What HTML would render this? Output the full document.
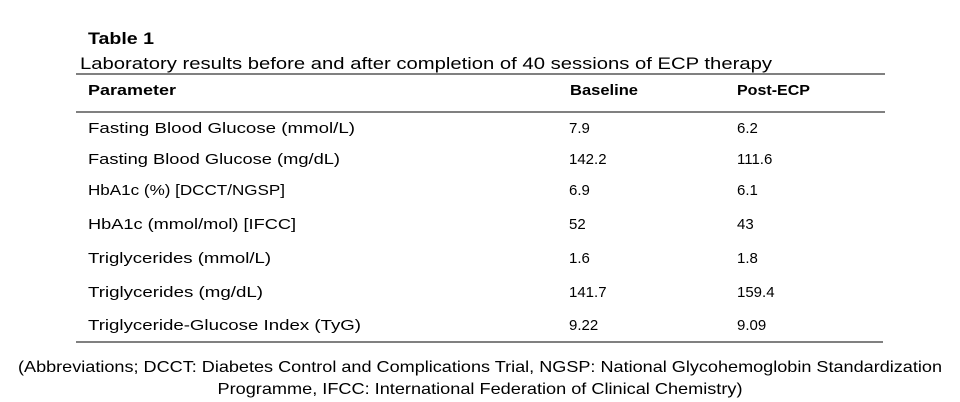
<!DOCTYPE html>
<html><head><meta charset="utf-8"><style>
html,body{margin:0;padding:0;background:#fff;width:960px;height:402px;overflow:hidden}
svg{display:block;font-family:"Liberation Sans",sans-serif;fill:#000}
</style></head><body>
<svg width="960" height="402" viewBox="0 0 960 402">
<text x="88" y="44" font-size="17" font-weight="bold" textLength="66" lengthAdjust="spacingAndGlyphs">Table 1</text>
<text x="80" y="69" font-size="17" textLength="692" lengthAdjust="spacingAndGlyphs">Laboratory results before and after completion of 40 sessions of ECP therapy</text>
<line x1="76" y1="74" x2="885" y2="74" stroke="#000" stroke-width="1"/>
<text x="88" y="95" font-size="15" font-weight="bold" textLength="88" lengthAdjust="spacingAndGlyphs">Parameter</text>
<text x="570" y="95" font-size="15" font-weight="bold" textLength="68" lengthAdjust="spacingAndGlyphs">Baseline</text>
<text x="737" y="95" font-size="15" font-weight="bold" textLength="73" lengthAdjust="spacingAndGlyphs">Post-ECP</text>
<line x1="76" y1="112" x2="885" y2="112" stroke="#000" stroke-width="1"/>
<g id="rows"></g>
<line x1="76" y1="342" x2="883" y2="342" stroke="#000" stroke-width="1"/>
<text x="480" y="372" font-size="16" text-anchor="middle" textLength="924" lengthAdjust="spacingAndGlyphs">(Abbreviations; DCCT: Diabetes Control and Complications Trial, NGSP: National Glycohemoglobin Standardization</text>
<text x="480" y="394" font-size="16" text-anchor="middle" textLength="525" lengthAdjust="spacingAndGlyphs">Programme, IFCC: International Federation of Clinical Chemistry)</text>
</svg>
<script>
const parameters=["Fasting Blood Glucose (mmol/L)","Fasting Blood Glucose (mg/dL)","HbA1c (%) [DCCT/NGSP]","HbA1c (mmol/mol) [IFCC]","Triglycerides (mmol/L)","Triglycerides (mg/dL)","Triglyceride-Glucose Index (TyG)"];
const baseline=["7.9","142.2","6.9","52","1.6","141.7","9.22"];
const postEcp=["6.2","111.6","6.1","43","1.8","159.4","9.09"];
const paramWidths=[267,252,197,208,183,175,273];
const rowY=[133,164,195,229,263,297,330];
const g=document.getElementById('rows');
const NS="http://www.w3.org/2000/svg";
function txt(x,y,s,w,name){
  const t=document.createElementNS(NS,'text');
  t.setAttribute('x',x);t.setAttribute('y',y);t.setAttribute('font-size','15');
  if(w){t.setAttribute('textLength',w);t.setAttribute('lengthAdjust','spacingAndGlyphs');}
  t.textContent=s;
  
  
  g.appendChild(t);
}
parameters.forEach((p,i)=>{
  txt(88,rowY[i],p,paramWidths[i],'parameter-cell');
  txt(569,rowY[i],baseline[i],null,'baseline-cell');
  txt(737,rowY[i],postEcp[i],null,'post-ecp-cell');
});
</script>
</body></html>
